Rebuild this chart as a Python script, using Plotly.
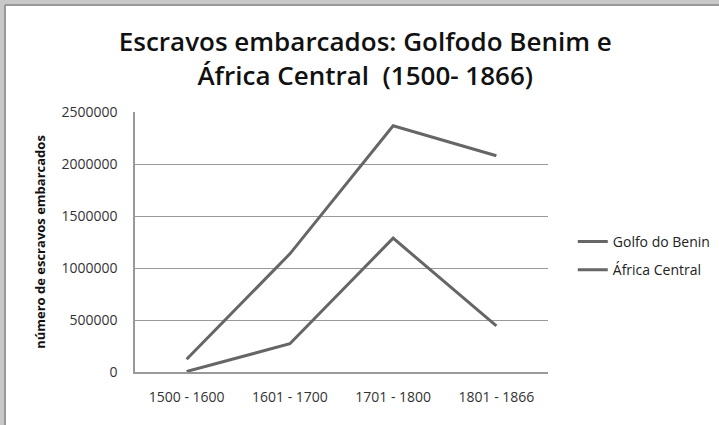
import plotly.graph_objects as go

categories = ["1500 - 1600", "1601 - 1700", "1701 - 1800", "1801 - 1866"]
golfo_benin = [5000, 272000, 1287000, 443000]
africa_central = [122000, 1136000, 2368000, 2079000]
y_ticks = [0, 500000, 1000000, 1500000, 2000000, 2500000]
title_text = "Escravos embarcados: Golfodo Benim e<br>África Central  (1500- 1866)"

W, H = 719, 425
L, R, T, B = 135, 171, 112, 53
pw, ph = W - L - R, H - T - B

def px(x):
    return (x - L) / pw

def py(y):
    return (H - B - y) / ph

FONT = "Open Sans"
LINE = "#666666"

fig = go.Figure()
fig.add_trace(go.Scatter(x=categories, y=golfo_benin, mode="lines", name="Golfo do Benin",
                         line=dict(color=LINE, width=3), legendgroup="a"))
fig.add_trace(go.Scatter(x=categories, y=africa_central, mode="lines", name="África Central",
                         line=dict(color=LINE, width=3), legendgroup="b"))

shapes = [
    dict(type="rect", xref="paper", yref="paper", x0=px(0), x1=px(W), y0=py(0), y1=py(6),
         fillcolor="#c8c8c8", line=dict(width=0), layer="above"),
    dict(type="rect", xref="paper", yref="paper", x0=px(0), x1=px(6), y0=py(0), y1=py(H),
         fillcolor="#c8c8c8", line=dict(width=0), layer="above"),
    dict(type="line", xref="paper", yref="paper", x0=px(5), x1=px(W), y0=py(5), y1=py(5),
         line=dict(color="#8a8a8a", width=1.5), layer="above"),
    dict(type="line", xref="paper", yref="paper", x0=px(5), x1=px(5), y0=py(5), y1=py(H),
         line=dict(color="#8a8a8a", width=1.5), layer="above"),
]

fig.update_layout(
    width=W, height=H,
    margin=dict(l=L, r=R, t=T, b=B, autoexpand=False),
    paper_bgcolor="white", plot_bgcolor="white",
    font=dict(family=FONT, size=14, color="#333333"),
    title=dict(text=title_text, x=0.508, xanchor="center", y=1 - 51 / H, yanchor="middle",
               font=dict(family=FONT, size=26, color="#111111", weight=600)),
    xaxis=dict(type="category", showgrid=False, showline=True, linecolor="#999999", linewidth=1.5,
               ticks="outside", ticklen=11, tickcolor="rgba(0,0,0,0)",
               tickfont=dict(size=14, color="#333333"), range=[-0.5, 3.5], fixedrange=True),
    yaxis=dict(range=[0, 2500000], tickvals=y_ticks, ticktext=[str(v) for v in y_ticks],
               showgrid=True, gridcolor="#999999", gridwidth=1, zeroline=False,
               showline=True, linecolor="#999999", linewidth=1.5,
               ticks="outside", ticklen=13, tickcolor="rgba(0,0,0,0)",
               tickfont=dict(size=14, color="#333333"),
               title=dict(text="número de escravos embarcados", standoff=13,
                          font=dict(size=13, color="#111111", weight="bold"))),
    legend=dict(x=1.06, xanchor="left", y=py(256), yanchor="middle",
                font=dict(size=14, color="#222222"), tracegroupgap=7,
                bgcolor="rgba(0,0,0,0)", itemwidth=30),
    shapes=shapes,
    showlegend=True,
)

fig.write_html("out.html", post_script="document.body.style.margin='0';",
               config={"displayModeBar": False})
